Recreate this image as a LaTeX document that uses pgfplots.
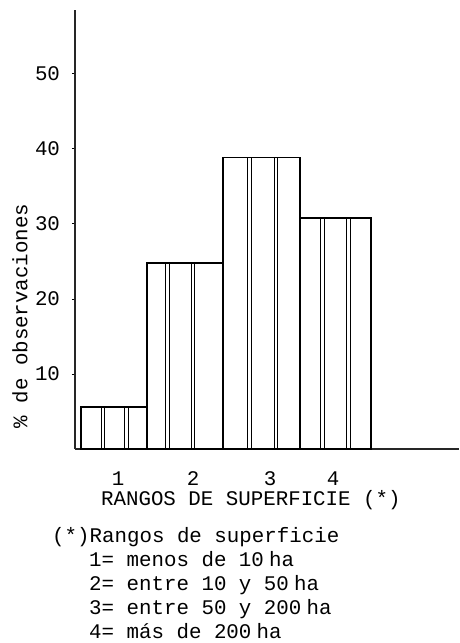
\documentclass[border=0pt]{standalone}
\usepackage{pgfplots}
\pgfplotsset{compat=1.18}
\usepackage{fontspec}
\setmainfont{Liberation Mono}
\setmonofont{Liberation Mono}
\newcommand{\tw}{\fontsize{20.8}{24}\selectfont}
\begin{document}
\begin{tikzpicture}
\useasboundingbox (0,0) rectangle (459pt,643pt);
\begin{axis}[
  at={(75pt,194pt)}, anchor=south west,
  width=384pt, height=439pt, scale only axis,
  xmin=0, xmax=384, ymin=0, ymax=58.5,
  axis x line=bottom, axis y line=left,
  axis line style={-, line width=1.6pt, black!85},
  xtick={43,118,195,258}, xticklabels={1,2,3,4},
  ytick={10,20,30,40,50},
  x tick style={draw=none},
  y tick style={line width=0.8pt, black},
  tick align=outside, major tick length=3pt,
  ticklabel style={font=\tw},
  /pgf/number format/assume math mode=true,
  x tick label style={anchor=center, yshift=-26.5pt},
  y tick label style={anchor=center, xshift=-24.5pt},
  xlabel={RANGOS DE SUPERFICIE (*)},
  xlabel style={at={(axis description cs:0.458,-0.116)}, anchor=center, font=\tw},
  ylabel={\% de observaciones},
  ylabel style={at={(axis description cs:-0.1432,0.303)}, anchor=center, font=\tw},
  clip=false,
]
\addplot[ybar interval, fill=white, draw=black, line width=1.3pt]
  coordinates {(6,5.6) (72,24.8) (148,38.8) (225,30.8) (296,30.8)};
\addplot[ycomb, mark=none, draw=black, line width=0.8pt]
  coordinates {(26,5.6) (29.5,5.6) (49.5,5.6) (53,5.6)
               (90.5,24.8) (94,24.8) (116,24.8) (119.5,24.8)
               (172.5,38.8) (176,38.8) (199,38.8) (202.5,38.8)
               (245.5,30.8) (249,30.8) (271.5,30.8) (275,30.8)};
\end{axis}
\node[anchor=base west, inner sep=0pt, font=\tw] at (52pt,100pt) {(*)Rangos de superficie};
\node[anchor=base west, inner sep=0pt, font=\tw] at (89pt,76pt) {1= menos de 10\hspace{0.25em}ha};
\node[anchor=base west, inner sep=0pt, font=\tw] at (89pt,52pt) {2= entre 10 y 50\hspace{0.25em}ha};
\node[anchor=base west, inner sep=0pt, font=\tw] at (89pt,28pt) {3= entre 50 y 200\hspace{0.25em}ha};
\node[anchor=base west, inner sep=0pt, font=\tw] at (89pt,5pt) {4= más de 200\hspace{0.25em}ha};
\end{tikzpicture}
\end{document}
